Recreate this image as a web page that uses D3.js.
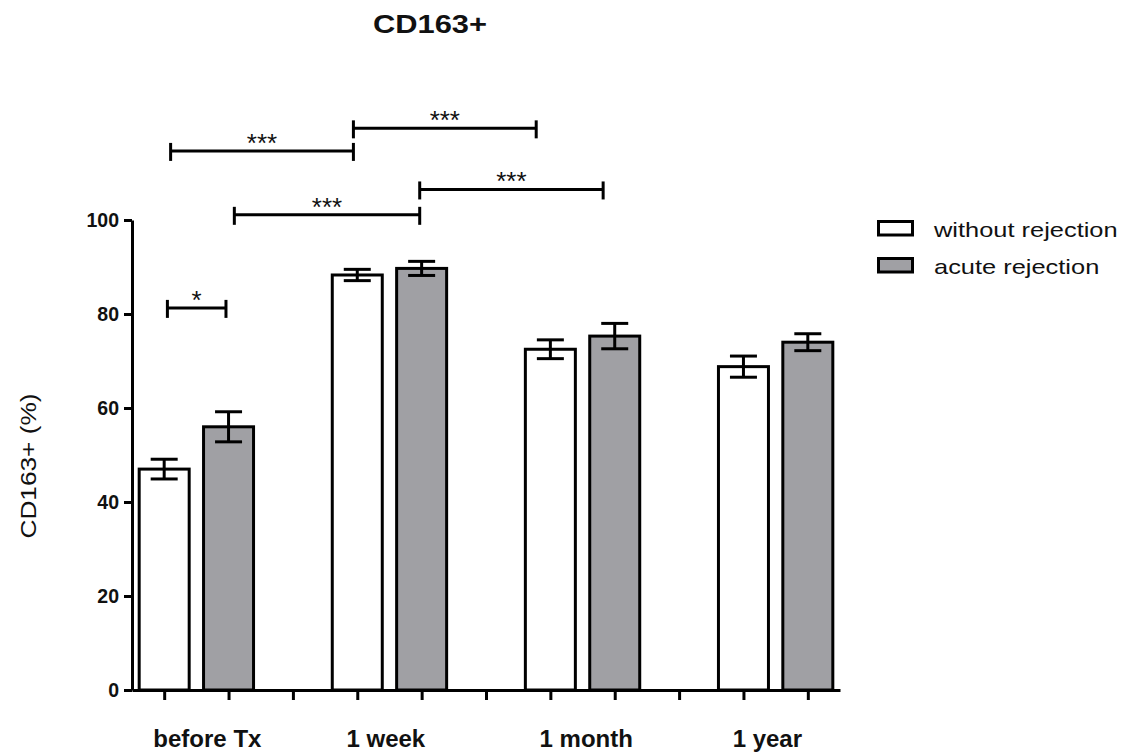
<!DOCTYPE html>
<html>
<head>
<meta charset="utf-8">
<script src="https://cdn.jsdelivr.net/npm/d3@7/dist/d3.min.js"></script>
<style>
  html, body { margin: 0; padding: 0; background: #ffffff; }
  svg { display: block; }
  text { font-family: "Liberation Sans", Arial, sans-serif; fill: #111; }
</style>
</head>
<body>
<svg id="chart" width="1126" height="756"></svg>
<script>
// ---- data ----
const categories = ["before Tx", "1 week", "1 month", "1 year"];
const seriesNames = ["without rejection", "acute rejection"];
const withoutRejection = [47.0, 88.3, 72.5, 68.8];
const withoutRejectionSEM = [2.1, 1.2, 2.0, 2.25];
const acuteRejection = [56.0, 89.7, 75.3, 74.0];
const acuteRejectionSEM = [3.2, 1.5, 2.7, 1.8];
const yTicks = [0, 20, 40, 60, 80, 100];
// significance brackets (in bar-slot units and y-value units)
const bracketLabels = ["*", "***", "***", "***", "***"];
const bracketFrom = [0.05, 0.1, 1.09, 2.94, 3.97];
const bracketTo = [0.96, 2.94, 3.97, 5.78, 6.82];
const bracketLevel = [81.3, 114.7, 101.1, 119.5, 106.5];

// ---- layout ----
const svg = d3.select("#chart");
const fillColors = ["#ffffff", "#a0a0a4"];
const SW = 3;

const x = d3.scaleLinear().domain([-0.5, 10.5]).range([132, 840]);
const y = d3.scaleLinear().domain([0, 100]).range([690, 220]);
const slotOf = (ci, si) => ci * 3 + si;

const values = [withoutRejection, acuteRejection];
const errs = [withoutRejectionSEM, acuteRejectionSEM];
const barData = [];
categories.forEach((c, ci) => {
  [0, 1].forEach(si => {
    barData.push({ c, ci, si, v: values[si][ci], e: errs[si][ci] });
  });
});

// bars
const barW = 50;
svg.append("g").selectAll("rect").data(barData).join("rect")
  .attr("x", d => x(slotOf(d.ci, d.si)) - barW / 2)
  .attr("y", d => y(d.v))
  .attr("width", barW)
  .attr("height", d => y(0) - y(d.v))
  .attr("fill", d => fillColors[d.si])
  .attr("stroke", "#000")
  .attr("stroke-width", SW);

// error bars
const capW = 27;
const eg = svg.append("g").attr("stroke", "#000").attr("stroke-width", SW);
barData.forEach(d => {
  const cx = x(slotOf(d.ci, d.si));
  eg.append("line").attr("x1", cx).attr("x2", cx).attr("y1", y(d.v + d.e)).attr("y2", y(d.v - d.e));
  eg.append("line").attr("x1", cx - capW / 2).attr("x2", cx + capW / 2).attr("y1", y(d.v + d.e)).attr("y2", y(d.v + d.e));
  eg.append("line").attr("x1", cx - capW / 2).attr("x2", cx + capW / 2).attr("y1", y(d.v - d.e)).attr("y2", y(d.v - d.e));
});

// y axis
const yAxis = svg.append("g").attr("transform", `translate(${x.range()[0]},0)`)
  .call(d3.axisLeft(y).tickValues(yTicks).tickSize(8).tickSizeOuter(0).tickPadding(5));
yAxis.selectAll("path, line").attr("stroke", "#000").attr("stroke-width", SW);
yAxis.selectAll("text").style("font-family", '"Liberation Sans", Arial, sans-serif')
  .style("font-size", "19.5px").style("font-weight", "bold").attr("fill", "#111");

// x axis
const xAxis = svg.append("g").attr("transform", `translate(0,${y(0)})`)
  .call(d3.axisBottom(x).tickValues(d3.range(11)).tickSize(10).tickSizeOuter(0).tickFormat(""));
xAxis.selectAll("path, line").attr("stroke", "#000").attr("stroke-width", SW);

// category labels
svg.append("g").selectAll("text").data(categories).join("text")
  .attr("x", (d, i) => x(slotOf(i, 0.5)) - 43)
  .attr("y", 747)
  .attr("text-anchor", "start")
  .style("font-size", "24px").style("font-weight", "bold")
  .text(d => d);

// brackets
const bg = svg.append("g");
bracketLabels.forEach((lab, i) => {
  const x1 = x(bracketFrom[i]), x2 = x(bracketTo[i]), yy = y(bracketLevel[i]);
  const g = bg.append("g").attr("stroke", "#000").attr("stroke-width", SW);
  g.append("line").attr("x1", x1).attr("x2", x2).attr("y1", yy).attr("y2", yy);
  g.append("line").attr("x1", x1).attr("x2", x1).attr("y1", yy - 8).attr("y2", yy + 10);
  g.append("line").attr("x1", x2).attr("x2", x2).attr("y1", yy - 8).attr("y2", yy + 10);
  bg.append("text").attr("x", (x1 + x2) / 2).attr("y", yy + 1)
    .attr("text-anchor", "middle").style("font-size", "26px").text(lab);
});

// title
svg.append("text").attr("x", 430).attr("y", 33).attr("text-anchor", "middle")
  .style("font-size", "25px").style("font-weight", "bold")
  .attr("textLength", 114).attr("lengthAdjust", "spacingAndGlyphs")
  .text("CD163+");

// y axis title
svg.append("text").attr("transform", "translate(36,466) rotate(-90)")
  .attr("text-anchor", "middle").style("font-size", "22px")
  .attr("textLength", 145).attr("lengthAdjust", "spacingAndGlyphs")
  .text("CD163+ (%)");

// legend
const lg = svg.append("g");
seriesNames.forEach((name, i) => {
  const row = lg.append("g").attr("transform", `translate(0,${i * 37})`);
  row.append("rect").attr("x", 878.5).attr("y", 221.5).attr("width", 34).attr("height", 13.5)
    .attr("fill", fillColors[i]).attr("stroke", "#000").attr("stroke-width", SW);
  const t = row.append("text").attr("x", 934).attr("y", 237)
    .style("font-size", "21px").text(name);
  const L = t.node().getComputedTextLength();
  t.attr("textLength", L * 1.21).attr("lengthAdjust", "spacingAndGlyphs");
});
</script>
</body>
</html>
